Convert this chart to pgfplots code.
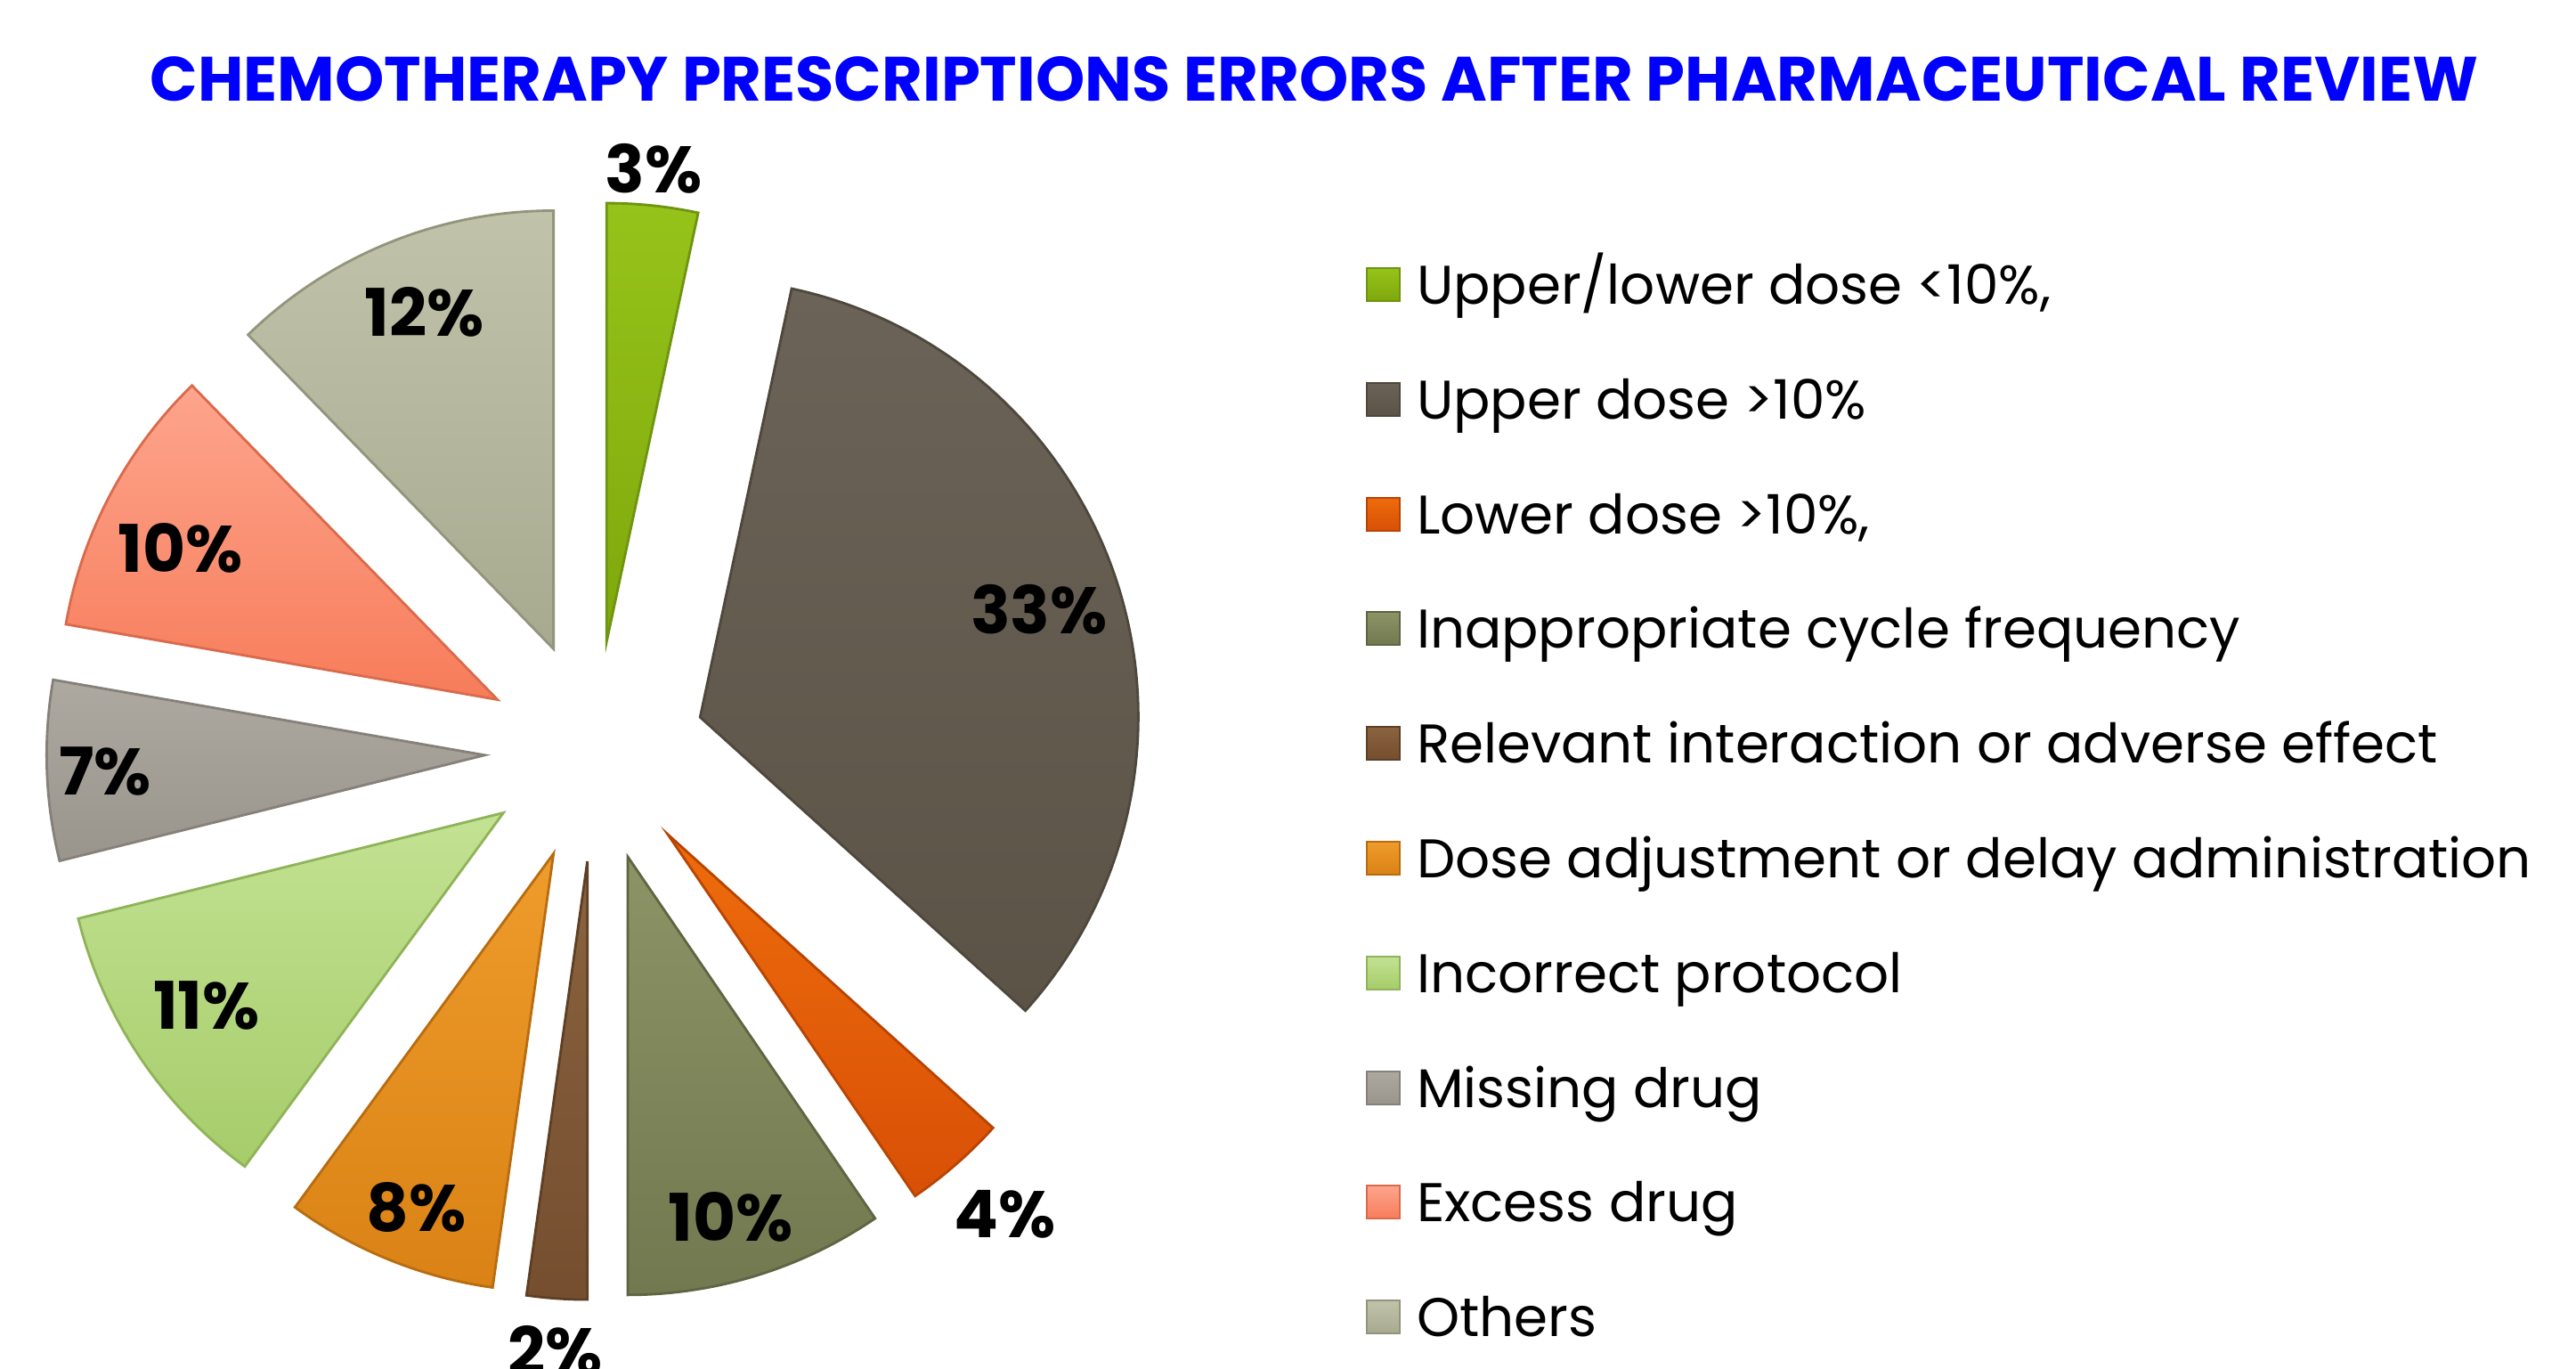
\documentclass[border=0pt]{standalone}
\usepackage{pgfplots}
\pgfplotsset{compat=1.18}
\usepackage{fontspec}
\setmainfont{Poppins}
\usetikzlibrary{calc}

\definecolor{cAt}{HTML}{96C31A}\definecolor{cAb}{HTML}{7FA80C}\definecolor{cAd}{HTML}{6E9410}
\definecolor{cBt}{HTML}{6B6357}\definecolor{cBb}{HTML}{5B5346}\definecolor{cBd}{HTML}{4E473C}
\definecolor{cCt}{HTML}{EE6C0C}\definecolor{cCb}{HTML}{D85006}\definecolor{cCd}{HTML}{B84404}
\definecolor{cDt}{HTML}{8C9466}\definecolor{cDb}{HTML}{72784F}\definecolor{cDd}{HTML}{5F6442}
\definecolor{cEt}{HTML}{8A6440}\definecolor{cEb}{HTML}{744E2E}\definecolor{cEd}{HTML}{5E3F25}
\definecolor{cFt}{HTML}{EE9C2C}\definecolor{cFb}{HTML}{DA8215}\definecolor{cFd}{HTML}{B86C10}
\definecolor{cGt}{HTML}{C3E293}\definecolor{cGb}{HTML}{A6CC6A}\definecolor{cGd}{HTML}{8FB358}
\definecolor{cHt}{HTML}{ADA9A1}\definecolor{cHb}{HTML}{99958C}\definecolor{cHd}{HTML}{85817A}
\definecolor{cIt}{HTML}{FDA58D}\definecolor{cIb}{HTML}{F77C5A}\definecolor{cId}{HTML}{D96A4C}
\definecolor{cJt}{HTML}{C0C2AA}\definecolor{cJb}{HTML}{A8AA90}\definecolor{cJd}{HTML}{92947C}

% #1 cumulative start (%), #2 value (%), #3 letter of colour set
\newcommand{\pieslice}[3]{%
  \draw[line width=0.8pt, draw=c#3d, top color=c#3t, bottom color=c#3b]
    ($(axis cs:6.683,6.926)+({90-3.6*(#1+#2/2)}:1.24cm)$) -- ++({90-3.6*#1}:4.92cm)
    arc[start angle={90-3.6*#1}, end angle={90-3.6*(#1+#2)}, radius=4.92cm] -- cycle;
}

\begin{document}
\begin{tikzpicture}
\begin{axis}[
  scale only axis, width=28.93cm, height=15.36cm,
  xmin=0, xmax=28.93, ymin=0, ymax=15.36,
  hide axis, clip=false,
  legend image code/.code={\draw[#1, line width=0.6pt] (0cm,-0.14cm) rectangle (0.37cm,0.23cm);},
  legend cell align=left,
  legend style={at={(axis cs:15.34,12.445)}, anchor=north west, draw=none, fill=none,
    inner sep=0pt, outer sep=0pt, row sep=0.638cm, column sep=0.18cm,
    nodes={inner sep=0pt, text height=0.5cm, text depth=0.15cm},
    font=\fontsize{17.4}{20}\selectfont},
]
\pieslice{0}{3.35}{A}
\pieslice{3.35}{33.33}{B}
\pieslice{36.68}{3.77}{C}
\pieslice{40.45}{9.55}{D}
\pieslice{50.00}{2.22}{E}
\pieslice{52.22}{7.83}{F}
\pieslice{60.05}{11.07}{G}
\pieslice{71.12}{6.63}{H}
\pieslice{77.75}{9.97}{I}
\pieslice{87.72}{12.28}{J}

\begin{scope}[every node/.style={font=\fontsize{21}{25}\selectfont\bfseries, text=black}]
\node at (axis cs:7.34,13.47) {3\%};
\node at (axis cs:11.67,8.52) {33\%};
\node at (axis cs:11.29,1.73) {4\%};
\node at (axis cs:8.21,1.70) {10\%};
\node at (axis cs:6.24,0.20) {2\%};
\node at (axis cs:4.68,1.80) {8\%};
\node at (axis cs:2.32,4.07) {11\%};
\node at (axis cs:1.18,6.70) {7\%};
\node at (axis cs:2.03,9.21) {10\%};
\node at (axis cs:4.77,11.86) {12\%};
\end{scope}

\node[font=\fontsize{20}{24}\selectfont\bfseries, text=blue] at (axis cs:14.76,14.47)
  {CHEMOTHERAPY PRESCRIPTIONS ERRORS AFTER PHARMACEUTICAL REVIEW};

\addlegendimage{top color=cAt, bottom color=cAb, draw=cAd}
\addlegendentry{Upper/lower dose <10\%,}
\addlegendimage{top color=cBt, bottom color=cBb, draw=cBd}
\addlegendentry{Upper dose >10\%}
\addlegendimage{top color=cCt, bottom color=cCb, draw=cCd}
\addlegendentry{Lower dose >10\%,}
\addlegendimage{top color=cDt, bottom color=cDb, draw=cDd}
\addlegendentry{Inappropriate cycle frequency}
\addlegendimage{top color=cEt, bottom color=cEb, draw=cEd}
\addlegendentry{Relevant interaction or adverse effect}
\addlegendimage{top color=cFt, bottom color=cFb, draw=cFd}
\addlegendentry{Dose adjustment or delay administration}
\addlegendimage{top color=cGt, bottom color=cGb, draw=cGd}
\addlegendentry{Incorrect protocol}
\addlegendimage{top color=cHt, bottom color=cHb, draw=cHd}
\addlegendentry{Missing drug}
\addlegendimage{top color=cIt, bottom color=cIb, draw=cId}
\addlegendentry{Excess drug}
\addlegendimage{top color=cJt, bottom color=cJb, draw=cJd}
\addlegendentry{Others}
\end{axis}
\pgfresetboundingbox
\path[use as bounding box] (0,0) rectangle (28.93cm,15.36cm);
\end{tikzpicture}
\end{document}
